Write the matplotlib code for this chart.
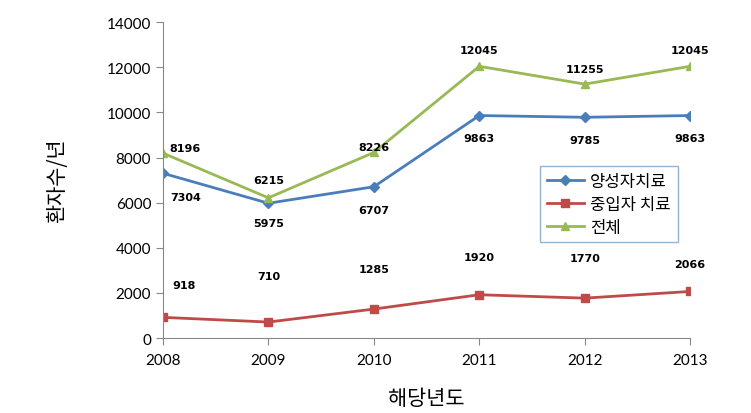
import matplotlib
matplotlib.use("Agg")
import matplotlib.pyplot as plt

plt.rcParams['font.family'] = ['Noto Sans CJK KR', 'DejaVu Sans']

years = ['2008', '2009', '2010', '2011', '2012', '2013']
proton = [7304, 5975, 6707, 9863, 9785, 9863]
heavy = [918, 710, 1285, 1920, 1770, 2066]
total = [8196, 6215, 8226, 12045, 11255, 12045]

# label offsets in points (dx, dy)
proton_off = [(16, -17), (0, -14), (0, -17), (0, -16), (0, -16), (0, -16)]
heavy_off = [(15, 23), (0, 33), (0, 29), (0, 27), (0, 29), (0, 20)]
total_off = [(16, 4), (0, 13), (0, 4), (0, 12), (0, 11), (0, 12)]

fig = plt.figure(figsize=(7.51, 4.14), dpi=100)
ax = fig.add_axes([0.217, 0.181, 0.702, 0.763])

x = list(range(len(years)))
ax.plot(x, proton, color='#4a7ebb', lw=2, marker='D', ms=5, label='양성자치료')
ax.plot(x, heavy, color='#be4b48', lw=2, marker='s', ms=6, label='중입자 치료')
ax.plot(x, total, color='#98b954', lw=2, marker='^', ms=6, label='전체')

for vals, offs in [(proton, proton_off), (heavy, heavy_off), (total, total_off)]:
    for i, v in enumerate(vals):
        ax.annotate(str(v), (i, v), xytext=offs[i], textcoords='offset points',
                    ha='center', va='center', fontsize=8, fontweight='bold',
                    family=['DejaVu Sans'])

ax.set_xlim(0, 5)
ax.set_ylim(0, 14000)
ax.set_xticks(x)
ax.set_xticklabels(years)
ax.set_yticks(range(0, 14001, 2000))
ax.tick_params(axis='both', labelsize=11, colors='#888888', labelcolor='black', length=5)
ax.tick_params(axis='x', pad=6)
for lbl in ax.get_xticklabels() + ax.get_yticklabels():
    lbl.set_family(['Lato', 'DejaVu Sans'])
for s in ['top', 'right']:
    ax.spines[s].set_visible(False)
for s in ['left', 'bottom']:
    ax.spines[s].set_color('#888888')

ax.set_xlabel('해당년도', fontsize=15, labelpad=14)
ax.set_ylabel('환자수/년', fontsize=15, labelpad=28)

leg = ax.legend(loc='upper left', bbox_to_anchor=(0.7, 0.57), fontsize=12,
                frameon=True, fancybox=False, handlelength=2.2, borderpad=0.4,
                labelspacing=0.35, handletextpad=0.4)
leg.get_frame().set_edgecolor('#7f9fc7')
leg.get_frame().set_linewidth(1)

fig.savefig('out.png', dpi=100)
